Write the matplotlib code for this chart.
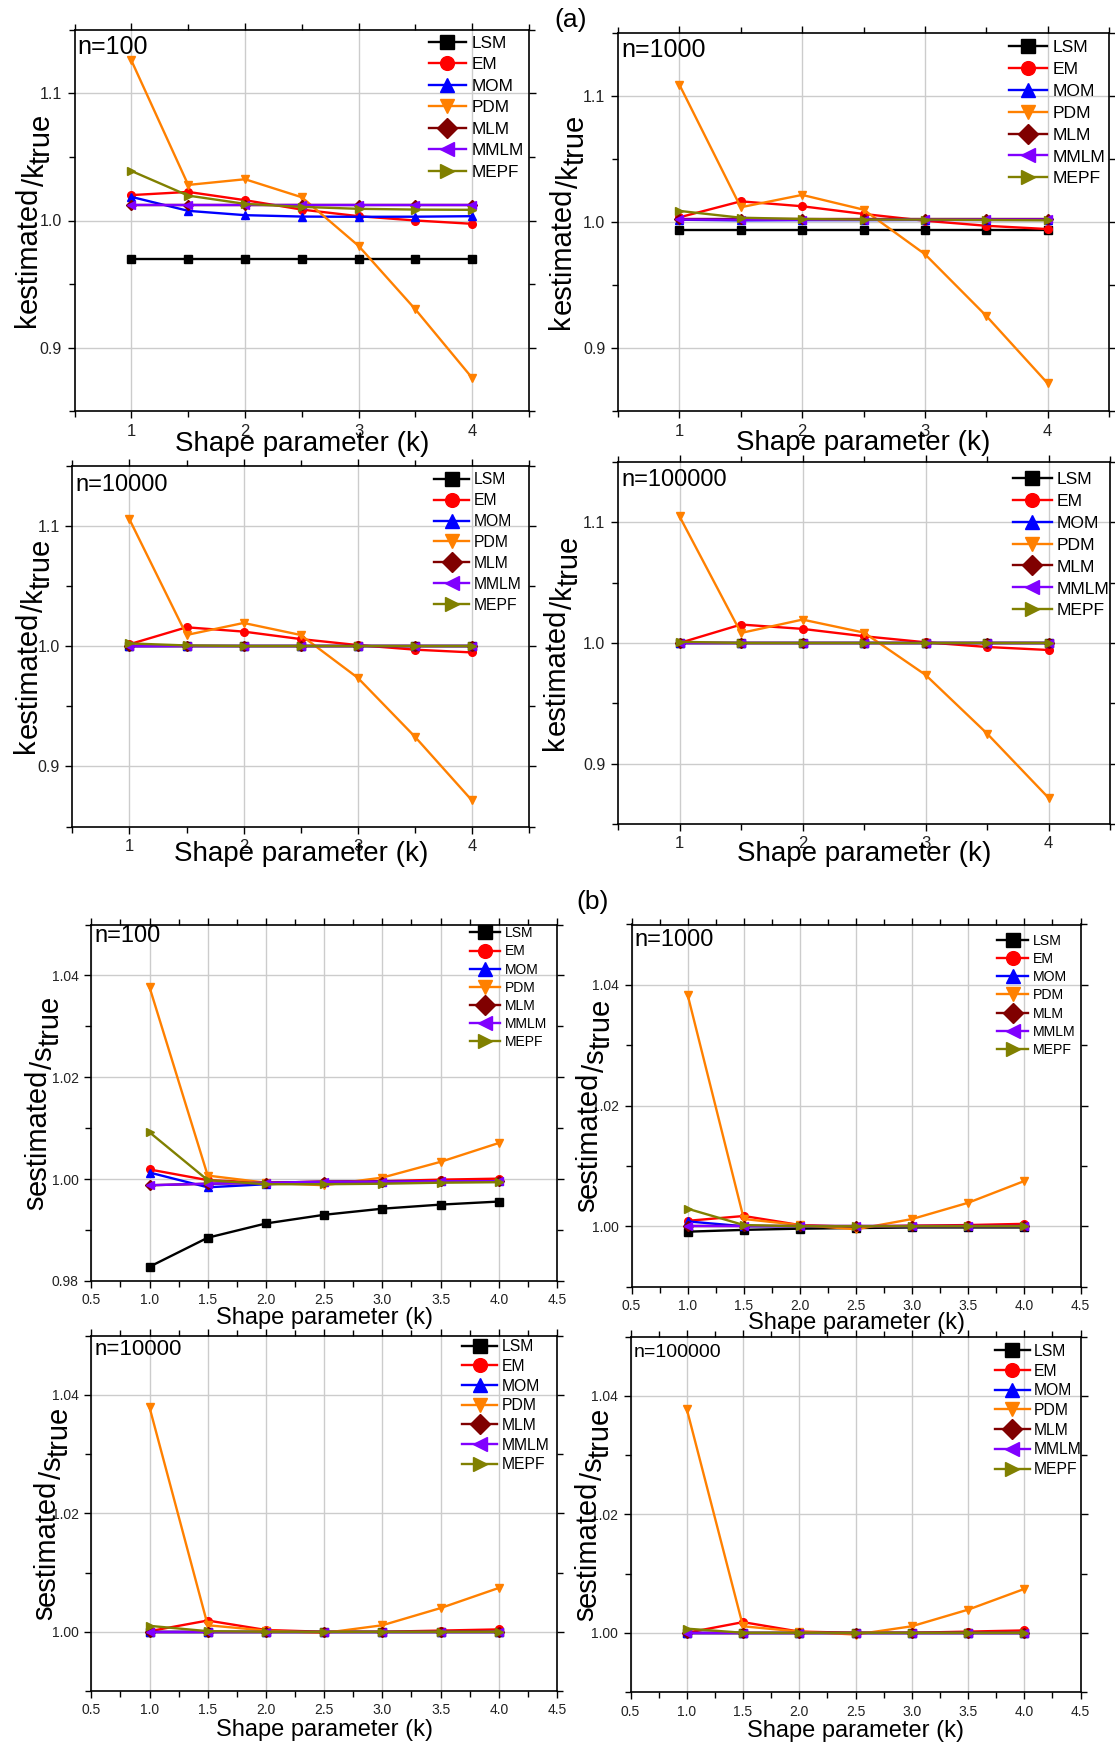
import matplotlib
matplotlib.use('Agg')
import matplotlib.pyplot as plt
from matplotlib.ticker import MultipleLocator, FormatStrFormatter

plt.rcParams['font.family'] = ['Liberation Sans', 'DejaVu Sans']

W, H = 1115, 1746

k_vals = [1.0, 1.5, 2.0, 2.5, 3.0, 3.5, 4.0]
methods = ['LSM', 'EM', 'MOM', 'PDM', 'MLM', 'MMLM', 'MEPF']

# (a) k_estimated / k_true
k_n100 = {
    'LSM':  [0.970, 0.970, 0.970, 0.970, 0.970, 0.970, 0.970],
    'EM':   [1.0200, 1.0225, 1.0160, 1.0086, 1.0034, 1.0000, 0.9974],
    'MOM':  [1.0186, 1.0076, 1.0042, 1.0031, 1.0029, 1.0030, 1.0034],
    'PDM':  [1.126, 1.028, 1.0325, 1.0183, 0.980, 0.930, 0.876],
    'MLM':  [1.0123, 1.0123, 1.0123, 1.0123, 1.0123, 1.0123, 1.0123],
    'MMLM': [1.0123, 1.0123, 1.0123, 1.0123, 1.0123, 1.0123, 1.0123],
    'MEPF': [1.039, 1.0196, 1.0131, 1.0107, 1.0092, 1.0086, 1.0084],
}
k_n1000 = {
    'LSM':  [0.994, 0.994, 0.994, 0.994, 0.994, 0.994, 0.994],
    'EM':   [1.0037, 1.0164, 1.0125, 1.0064, 1.0010, 0.9970, 0.9944],
    'MOM':  [1.0018, 1.0013, 1.0015, 1.0015, 1.0016, 1.0016, 1.0017],
    'PDM':  [1.109, 1.0117, 1.0215, 1.0098, 0.9745, 0.9255, 0.872],
    'MLM':  [1.0020, 1.0020, 1.0020, 1.0020, 1.0020, 1.0020, 1.0020],
    'MMLM': [1.0020, 1.0018, 1.0018, 1.0018, 1.0020, 1.0020, 1.0020],
    'MEPF': [1.0088, 1.0034, 1.0024, 1.0019, 1.0019, 1.0016, 1.0013],
}
k_n10000 = {
    'LSM':  [0.9997, 0.9997, 0.9997, 0.9997, 0.9997, 0.9997, 0.9997],
    'EM':   [1.0015, 1.0156, 1.0120, 1.0058, 1.0008, 0.9970, 0.9947],
    'MOM':  [1.0, 1.0, 1.0, 1.0, 1.0, 1.0, 1.0],
    'PDM':  [1.1053, 1.0092, 1.0192, 1.0092, 0.9736, 0.9247, 0.8717],
    'MLM':  [1.0, 1.0, 1.0, 1.0, 1.0, 1.0, 1.0],
    'MMLM': [0.9998, 1.0, 1.0, 1.0, 1.0, 1.0, 1.0],
    'MEPF': [1.0022, 1.0005, 1.0, 1.0, 1.0, 1.0, 1.0],
}
k_n100000 = {
    'LSM':  [1.0, 1.0, 1.0, 1.0, 1.0, 1.0, 1.0],
    'EM':   [1.0, 1.0153, 1.0117, 1.0056, 1.0006, 0.9967, 0.9942],
    'MOM':  [1.0, 1.0, 1.0, 1.0, 1.0, 1.0, 1.0],
    'PDM':  [1.105, 1.0083, 1.0194, 1.0086, 0.9736, 0.925, 0.8717],
    'MLM':  [1.0, 1.0, 1.0, 1.0, 1.0, 1.0, 1.0],
    'MMLM': [1.0, 1.0, 1.0, 1.0, 1.0, 1.0, 1.0],
    'MEPF': [1.001, 1.0, 1.0, 1.0, 1.0, 1.0, 1.0],
}

# (b) s_estimated / s_true
s_n100 = {
    'LSM':  [0.9828, 0.9885, 0.9913, 0.9930, 0.9942, 0.9950, 0.9956],
    'EM':   [1.0019, 0.9998, 0.9993, 0.9995, 0.9996, 0.9999, 1.0001],
    'MOM':  [1.0013, 0.9984, 0.9990, 0.9994, 0.9995, 0.9996, 0.9996],
    'PDM':  [1.0377, 1.0007, 0.9993, 0.9988, 1.0003, 1.0034, 1.0071],
    'MLM':  [0.9988, 0.9991, 0.9993, 0.9995, 0.9995, 0.9996, 0.9996],
    'MMLM': [0.9988, 0.9991, 0.9993, 0.9995, 0.9995, 0.9996, 0.9996],
    'MEPF': [1.0092, 0.9998, 0.9990, 0.9990, 0.9991, 0.9993, 0.9994],
}
s_n1000 = {
    'LSM':  [0.9991, 0.9994, 0.9996, 0.9997, 0.9998, 0.9998, 0.9998],
    'EM':   [1.0009, 1.0017, 1.0002, 0.9999, 1.0001, 1.0002, 1.0004],
    'MOM':  [1.0008, 1.0, 1.0, 1.0, 1.0, 1.0, 1.0],
    'PDM':  [1.0383, 1.0012, 1.0002, 0.9995, 1.0012, 1.0039, 1.0075],
    'MLM':  [1.0, 1.0, 1.0, 1.0, 1.0, 1.0, 1.0],
    'MMLM': [1.0, 1.0, 1.0, 1.0, 1.0, 1.0, 1.0],
    'MEPF': [1.0029, 1.0002, 1.0, 1.0, 1.0, 1.0, 1.0],
}
s_n10000 = {
    'LSM':  [1.0, 1.0, 1.0, 1.0, 1.0, 1.0, 1.0],
    'EM':   [1.0001, 1.0019, 1.0003, 1.0, 1.0, 1.0002, 1.0004],
    'MOM':  [1.0, 1.0, 1.0, 1.0, 1.0, 1.0, 1.0],
    'PDM':  [1.0379, 1.0011, 1.0002, 0.9998, 1.0011, 1.0040, 1.0074],
    'MLM':  [1.0, 1.0, 1.0, 1.0, 1.0, 1.0, 1.0],
    'MMLM': [1.0, 1.0, 1.0, 1.0, 1.0, 1.0, 1.0],
    'MEPF': [1.0010, 1.0001, 1.0, 1.0, 1.0, 1.0, 1.0],
}
s_n100000 = {
    'LSM':  [1.0, 1.0, 1.0, 1.0, 1.0, 1.0, 1.0],
    'EM':   [1.0, 1.0018, 1.0002, 1.0, 1.0, 1.0002, 1.0004],
    'MOM':  [1.0, 1.0, 1.0, 1.0, 1.0, 1.0, 1.0],
    'PDM':  [1.0378, 1.0011, 1.0002, 0.9997, 1.0011, 1.0039, 1.0074],
    'MLM':  [1.0, 1.0, 1.0, 1.0, 1.0, 1.0, 1.0],
    'MMLM': [1.0, 1.0, 1.0, 1.0, 1.0, 1.0, 1.0],
    'MEPF': [1.0007, 1.0, 1.0, 1.0, 1.0, 1.0, 1.0],
}

colors = {'LSM': 'black', 'EM': '#ff0000', 'MOM': '#0000ff', 'PDM': '#ff8000',
          'MLM': '#800000', 'MMLM': '#8000ff', 'MEPF': '#808000'}
markers = {'LSM': 's', 'EM': 'o', 'MOM': '^', 'PDM': 'v',
           'MLM': 'D', 'MMLM': '<', 'MEPF': '>'}

fig = plt.figure(figsize=(W / 100, H / 100), dpi=100)


def make_axes(l, r, t, b):
    return fig.add_axes([l / W, 1 - b / H, (r - l) / W, (b - t) / H])


def draw_panel(ax, data, title, kind, leg_xy, leg_fs, title_fs, title_dy, xlab_y):
    for m in methods:
        ax.plot(k_vals, data[m], color=colors[m], marker=markers[m], ms=5.5,
                lw=1.7, label=m, zorder=3)
    ax.set_xlim(0.5, 4.5)
    if kind == 'a':
        ax.set_ylim(0.85, 1.15)
        ax.xaxis.set_major_locator(MultipleLocator(1))
        ax.xaxis.set_minor_locator(MultipleLocator(0.5))
        ax.yaxis.set_major_locator(MultipleLocator(0.1))
        ax.yaxis.set_minor_locator(MultipleLocator(0.05))
        ax.yaxis.set_major_formatter(FormatStrFormatter('%.1f'))
        ax.tick_params(axis='y', which='major', labelsize=11.5)
        ax.tick_params(axis='x', which='major', labelsize=12)
        ax.set_xlabel('Shape parameter (k)', fontsize=20, va='center')
        spacing = 0.38
    else:
        ax.set_ylim(0.98 if '100' == title[2:] else 0.99, 1.05)
        ax.xaxis.set_major_locator(MultipleLocator(0.5))
        ax.xaxis.set_minor_locator(MultipleLocator(0.25))
        ax.xaxis.set_major_formatter(FormatStrFormatter('%.1f'))
        ax.yaxis.set_major_locator(MultipleLocator(0.02))
        ax.yaxis.set_minor_locator(MultipleLocator(0.01))
        ax.yaxis.set_major_formatter(FormatStrFormatter('%.2f'))
        ax.tick_params(axis='both', which='major', labelsize=10)
        ax.set_xlabel('Shape parameter (k)', fontsize=17, va='center')
        spacing = 0.3
    ax.xaxis.set_label_coords(0.5, xlab_y)
    ax.tick_params(which='both', direction='out', top=True, right=True,
                   labelcolor='#222222', width=1.0)
    ax.tick_params(which='major', length=5, pad=4)
    ax.tick_params(which='minor', length=4)
    ax.grid(True, which='major', color='#cccccc', lw=1.0, zorder=0)
    ax.set_axisbelow(True)
    for sp in ax.spines.values():
        sp.set_linewidth(1.2)
    ax.annotate(title, xy=(0, 1), xycoords='axes fraction', xytext=(3, -title_dy),
                textcoords='offset pixels', ha='left', va='center', fontsize=title_fs)
    ax.legend(loc='upper left', bbox_to_anchor=leg_xy, frameon=False,
              fontsize=leg_fs, markerscale=1.8, handlelength=2.2,
              handletextpad=0.3, labelspacing=spacing, borderpad=0, borderaxespad=0)


def stacked_ylabel(ax, parts, dx, size=21):
    # label pieces laid along a rotated baseline, lowered pieces shifted right
    r = fig.canvas.get_renderer()
    pos = ax.get_position()
    x0 = pos.x0 * W + dx
    cy = (pos.y0 + pos.height / 2) * H
    texts = [fig.text(0, 0, s, fontsize=size, rotation=90, rotation_mode='anchor',
                      ha='left', va='baseline') for s, _ in parts]
    lens = [t.get_window_extent(r).height for t in texts]
    y = cy - sum(lens) / 2
    for t, (s, sh), L in zip(texts, parts, lens):
        t.set_position(((x0 + sh) / W, y / H))
        y += L


a1 = make_axes(74.6, 529, 30, 411)
a2 = make_axes(618, 1109, 33, 411)
a3 = make_axes(72.4, 529, 465.6, 826.5)
a4 = make_axes(618, 1110, 462, 824)
b1 = make_axes(91.3, 557, 924.5, 1281)
b2 = make_axes(631.6, 1080.5, 924.5, 1286.6)
b3 = make_axes(91.3, 557, 1335.6, 1691)
b4 = make_axes(630.5, 1080.5, 1336.7, 1692)

draw_panel(a1, k_n100, 'n=100', 'a', (0.779, 0.985), 12.3, 18, 17, -0.087)
draw_panel(a2, k_n1000, 'n=1000', 'a', (0.796, 0.982), 12.6, 18, 17, -0.085)
draw_panel(a3, k_n10000, 'n=10000', 'a', (0.793, 0.982), 11.3, 17, 19, -0.076)
draw_panel(a4, k_n100000, 'n=100000', 'a', (0.803, 0.973), 12.6, 17, 18, -0.083)
draw_panel(b1, s_n100, 'n=100', 'b', (0.813, 0.995), 10, 17, 12, -0.104)
draw_panel(b2, s_n1000, 'n=1000', 'b', (0.814, 0.975), 10.2, 17, 15, -0.10)
draw_panel(b3, s_n10000, 'n=10000', 'b', (0.797, 0.99), 11.3, 16, 14, -0.11)
draw_panel(b4, s_n100000, 'n=100000', 'b', (0.81, 0.98), 11.3, 14, 16, -0.11)

k_label = [('k', 0), ('estimated', 2), ('/k', 9), ('true', 15)]
s_label = [('s', 0), ('estimated', 2), ('/s', 9), ('true', 15)]
stacked_ylabel(a1, k_label, -40)
stacked_ylabel(a2, k_label, -49)
stacked_ylabel(a3, k_label, -38)
stacked_ylabel(a4, k_label, -55)
stacked_ylabel(b1, s_label, -48)
stacked_ylabel(b2, s_label, -37)
stacked_ylabel(b3, s_label, -39)
stacked_ylabel(b4, s_label, -37)

fig.text(571 / W, 1 - 20 / H, '(a)', fontsize=19, ha='center', va='center')
fig.text(593 / W, 1 - 902 / H, '(b)', fontsize=19, ha='center', va='center')

fig.savefig('out.png', dpi=100)
